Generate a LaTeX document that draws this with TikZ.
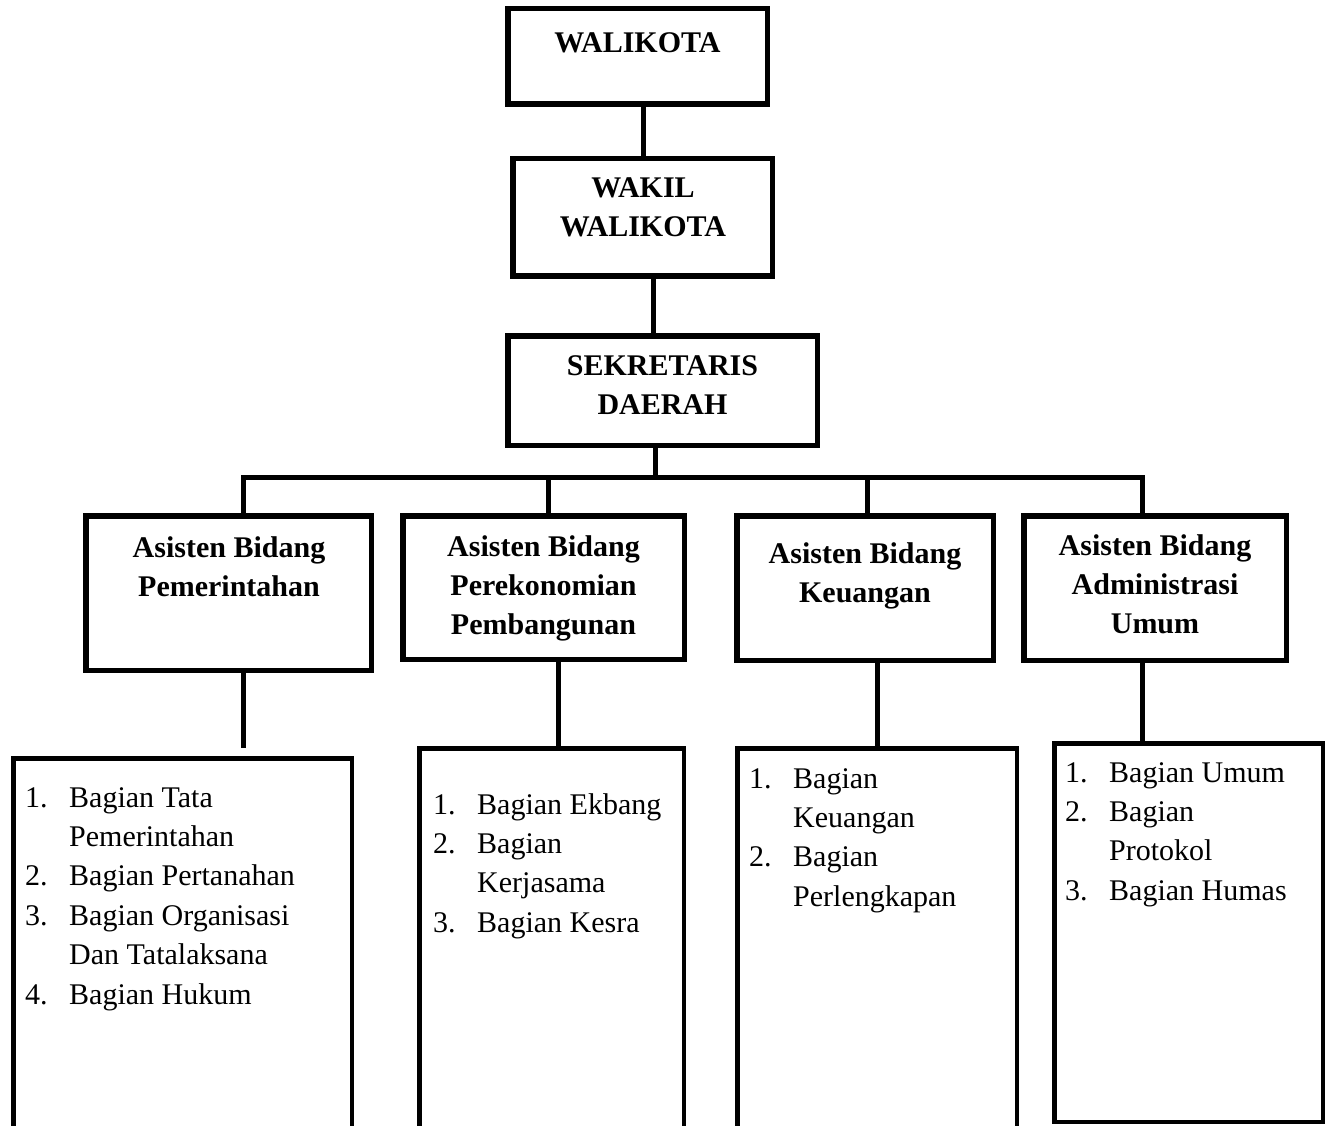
\documentclass[tikz,border=0pt]{standalone}
\usepackage{fontspec}
\setmainfont{Liberation Serif}
\newcommand{\colc}[1]{\begin{tabular}[t]{@{}c@{}}#1\end{tabular}}
\newcommand{\colnum}[1]{\begin{tabular}[t]{@{}p{44pt}@{}l@{}}#1\end{tabular}}
\begin{document}
\begin{tikzpicture}[x=1pt,y=-1pt,
  upbox/.style={draw, line width=5.5pt, inner sep=0pt, line join=miter},
  listbox/.style={draw, line width=4.5pt, inner sep=0pt, line join=miter},
  conn/.style={draw, line width=5pt, line join=miter},
  btxt/.style={inner sep=0pt, anchor=base, font=\fontsize{30}{39}\bfseries\selectfont},
  ltxt/.style={inner sep=0pt, anchor=base west, font=\fontsize{30}{39.4}\selectfont}]
\useasboundingbox (0,0) rectangle (1331,1126);
\fill[white] (0,0) rectangle (1331,1126);

% upper boxes
\node[upbox, minimum width=259.5pt, minimum height=95.5pt] (wali) at (637.5,56.5) {};
\node[upbox, minimum width=259.5pt, minimum height=117.5pt] (wakil) at (642.5,217.5) {};
\node[upbox, minimum width=309.5pt, minimum height=109.5pt] (sek) at (662.5,390.5) {};
\node[upbox, minimum width=285.5pt, minimum height=154.5pt] (asPem) at (228.5,593) {};
\node[upbox, minimum width=281.5pt, minimum height=143.5pt] (asPer) at (543.5,587.5) {};
\node[upbox, minimum width=256.5pt, minimum height=144.5pt] (asKeu) at (865,588) {};
\node[upbox, minimum width=262.5pt, minimum height=144.5pt] (asAdm) at (1155,588) {};

% texts of upper boxes
\node[btxt] (tWali) at (637.5,53) {\colc{WALIKOTA}};
\node[btxt] (tWakil) at (643,198) {\colc{WAKIL\\WALIKOTA}};
\node[btxt] (tSek) at (662.5,375) {\colc{SEKRETARIS\\DAERAH}};
\node[btxt] (tPem) at (229,557) {\colc{Asisten Bidang\\Pemerintahan}};
\node[btxt] (tPer) at (543.5,556) {\colc{Asisten Bidang\\Perekonomian\\Pembangunan}};
\node[btxt] (tKeu) at (865,563) {\colc{Asisten Bidang\\Keuangan}};
\node[btxt] (tAdm) at (1155,555) {\colc{Asisten Bidang\\Administrasi\\Umum}};

% list boxes (the three on the left run off the bottom edge)
\coordinate (l1top) at (182.5,748.25);
\coordinate (l2top) at (551.5,748.25);
\coordinate (l3top) at (877,748.25);
\draw[listbox] (13.25,1126) |- (351.75,758.25) -- (351.75,1126);
\draw[listbox] (419.25,1126) |- (683.75,748.25) -- (683.75,1126);
\draw[listbox] (737.25,1126) |- (1016.75,748.25) -- (1016.75,1126);
\node[listbox, minimum width=268.5pt, minimum height=378.5pt] (l4) at (1188.5,932.5) {};

% list texts
\node[ltxt] (tl1) at (25,807) {\colnum{1. & Bagian Tata\\ & Pemerintahan\\ 2. & Bagian Pertanahan\\ 3. & Bagian Organisasi\\ & Dan Tatalaksana\\ 4. & Bagian Hukum}};
\node[ltxt] (tl2) at (433,814) {\colnum{1. & Bagian Ekbang\\ 2. & Bagian\\ & Kerjasama\\ 3. & Bagian Kesra}};
\node[ltxt] (tl3) at (749,788) {\colnum{1. & Bagian\\ & Keuangan\\ 2. & Bagian\\ & Perlengkapan}};
\node[ltxt] (tl4) at (1065,782) {\colnum{1. & Bagian Umum\\ 2. & Bagian\\ & Protokol\\ 3. & Bagian Humas}};

% connector positions
\coordinate (cA) at (643,0);
\coordinate (cB) at (653,0);
\coordinate (cC) at (655,477);
\coordinate (d1) at (243,477);
\coordinate (d2) at (548,477);
\coordinate (d3) at (867,477);
\coordinate (d4) at (1142,477);
\coordinate (e1) at (243,0);
\coordinate (e2) at (558,0);
\coordinate (e3) at (877,0);
\coordinate (e4) at (1142,0);

% connectors
\draw[conn] (wali.south -| cA) -- (wakil.north -| cA);
\draw[conn] (wakil.south -| cB) -- (sek.north -| cB);
\draw[conn] (sek.south -| cC) -- (cC);
\draw[conn] (asPem.north -| d1) -- (d1) -- (d4) -- (asAdm.north -| d4);
\draw[conn] (d2) -- (asPer.north -| d2);
\draw[conn] (d3) -- (asKeu.north -| d3);
\draw[conn] (asPem.south -| e1) -- (l1top -| e1);
\draw[conn] (asPer.south -| e2) -- (l2top -| e2);
\draw[conn] (asKeu.south -| e3) -- (l3top -| e3);
\draw[conn] (asAdm.south -| e4) -- (l4.north -| e4);
\end{tikzpicture}
\end{document}
